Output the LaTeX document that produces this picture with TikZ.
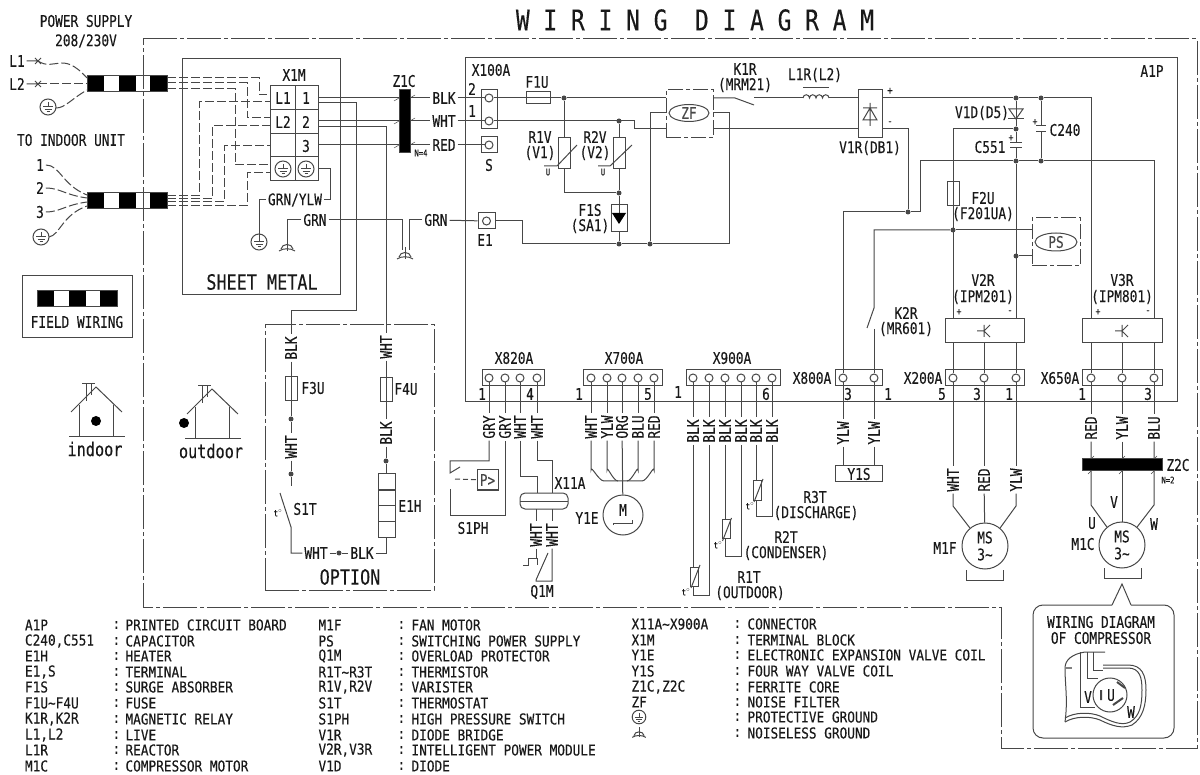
\documentclass[tikz,border=0pt]{standalone}
\usepackage{fontspec}
\usepackage{tikz}
\usetikzlibrary{shapes.geometric}
\newfontfamily\wirefont{DejaVu Sans Mono}[FakeStretch=0.8,FakeBold=0.25]
\newfontfamily\listfont{DejaVu Sans Mono}[FakeStretch=0.85,FakeBold=0.25]
\newcommand{\wave}{\symbol{126}}
\tikzstyle{lbl} = [inner sep=1.5pt, text=black!90]
\tikzstyle{vlbl} = [lbl, rotate=90]
\tikzstyle{legend} = [lbl, anchor=west, inner sep=0pt, font=\listfont\fontsize{15}{15}\selectfont]
\tikzstyle{small} = [lbl, inner sep=0pt, font=\wirefont\fontsize{9}{9}\selectfont]
\tikzstyle{term} = [circle, draw, fill=white, minimum size=8pt, inner sep=0pt]
\tikzstyle{wbox} = [rectangle, draw, inner sep=0pt]
\tikzstyle{fuse} = [rectangle, draw, inner sep=0pt, minimum width=12pt, minimum height=24pt]
\tikzstyle{vari} = [rectangle, draw, fill=white, inner sep=0pt, minimum width=12pt, minimum height=31pt]
\tikzstyle{therm} = [rectangle, draw, fill=white, inner sep=0pt, minimum width=8pt, minimum height=19pt]
\tikzstyle{dashbox} = [rectangle, draw, inner sep=0pt, dash pattern=on 15pt off 3pt on 4pt off 3pt]
\tikzstyle{filter} = [ellipse, draw, inner sep=0pt, minimum width=40pt, minimum height=17pt]
\tikzstyle{jdot} = [circle, fill, inner sep=0pt, minimum size=5pt]
\tikzstyle{motor} = [circle, draw, inner sep=0pt, minimum size=46pt, align=center, text=black!90]
\tikzstyle{fwire} = [dash pattern=on 9pt off 3pt]
\tikzstyle{bound} = [dash pattern=on 34pt off 3pt on 4pt off 3pt]
\tikzset{
  earth/.pic={
    \draw (0,0) circle (8pt);
    \draw (0,-5) -- (0,0) (-5,0) -- (5,0) (-3.5,2.5) -- (3.5,2.5) (-1.5,5) -- (1.5,5);
  },
  quiet/.pic={
    \draw (0,-8) -- (0,4);
    \draw (-6,2) .. controls (-5,-4) and (5,-4) .. (6,2);
    \draw (-8,4) .. controls (-4,1) and (4,1) .. (8,4);
  },
  fieldbar/.pic={
    \foreach \i in {-40,-8,23} {\fill [black] (\i,-8) rectangle ++(17,16);}
    \draw (-40,-8) rectangle (40,8);
  },
  house/.pic={
    \draw (-25,25) -- (0,0) -- (26,25);
    \draw (-17,18) -- (-17,50) (17,18) -- (17,50) (-27,50) -- (29,50);
    \draw (-14,-3) -- (-1,-3) (-10,-3) -- (-10,14) (-5,-3) -- (-5,8);
  },
  ipmsym/.pic={
    \draw (-7,0) -- (0,0) (0,-6) -- (0,6) (0,0) -- (6,-6) (0,0) -- (6,6);
  }
}
\begin{document}
\begin{tikzpicture}[x=1pt, y=-1pt, line width=1pt, color=black!72]
\tikzstyle{every node}=[font=\wirefont\fontsize{16}{17}\selectfont]
\useasboundingbox (0,0) rectangle (1200,775);
\node (title) [lbl] at (695,20) {\fontsize{28.6}{29}\selectfont W I R I N G\ \ D I A G R A M};

% outer frames
\draw [bound] (143,39) -- (1197,39) -- (1197,748) -- (1001,748) -- (1001,607) -- (143,607) -- cycle;
\node (sheet) [wbox, minimum width=158pt, minimum height=236pt] at (261,177) {};
\node (sheetlbl) [lbl] at (262,282) {\fontsize{21}{21}\selectfont SHEET METAL};
\node (a1p) [wbox, minimum width=712pt, minimum height=344pt] at (821.5,230) {};
\node (a1plbl) [lbl] at (1152,71) {A1P};
\node (option) [dashbox, dash pattern=on 34pt off 3pt on 4pt off 3pt, minimum width=169pt, minimum height=265pt] at (349.5,457.5) {};
\node (optlbl) [lbl] at (350,577) {\fontsize{21}{21}\selectfont OPTION};

% field wiring
\node (psup1) [lbl] at (86,21) {POWER SUPPLY};
\node (psup2) [lbl] at (86,41) {208/230V};
\node (toind) [lbl] at (71,140) {TO INDOOR UNIT};
\node (fieldbox) [wbox, minimum width=110pt, minimum height=62pt] at (77,307) {};
\node (fieldlbl) [lbl] at (77,322) {FIELD WIRING};
\pic at (127,84) {fieldbar};
\pic at (127,200.5) {fieldbar};
\pic at (77,299) {fieldbar};

\node (l1) [lbl] at (17,61) {L1};
\node (l2) [lbl] at (17,84) {L2};
\node (n1) [lbl] at (40,165) {1};
\node (n2) [lbl] at (40,188) {2};
\node (n3) [lbl] at (40,212) {3};
\coordinate (pe1) at (48,107);
\coordinate (pe2) at (41,237);
\pic at (pe1) {earth};
\pic at (pe2) {earth};
\coordinate (l1x) at (38,61);
\coordinate (l2x) at (38,84);
\coordinate (bara) at (87,78);
\coordinate (barb) at (87,84);
\coordinate (barc) at (87,90);
\draw (l1) -- (l1x) (35,58) -- (41,64) (35,64) -- (41,58);
\draw (l2) -- (l2x) (35,81) -- (41,87) (35,87) -- (41,81);
\draw [fwire] (l1x) .. controls (55,72) and (62,50) .. (bara);
\draw [fwire] (l2x) -- (barb);
\draw [fwire] (56,108) .. controls (65,108) and (70,100) .. (barc);
\coordinate (bard) at (87,195);
\coordinate (bare) at (87,198);
\coordinate (barf) at (87,202);
\coordinate (barg) at (87,206);
\draw [fwire] (n1) .. controls (60,165) and (62,185) .. (bard);
\draw [fwire] (n2) .. controls (60,188) and (65,195) .. (bare);
\draw [fwire] (n3) .. controls (60,212) and (65,205) .. (barf);
\draw [fwire] (49,237) .. controls (60,235) and (62,215) .. (barg);

% X1M
\node (x1m) [wbox, minimum width=48pt, minimum height=95pt] at (294,133.5) {};
\node (x1mlbl) [lbl] at (294,75) {X1M};
\draw (295,86) -- (295,181);
\foreach \y in {110,134,157} {\draw (270,\y) -- (318,\y);}
\node (tl1) [lbl] at (283,98) {L1};
\node (t1) [lbl] at (306,98) {1};
\node (tl2) [lbl] at (283,122) {L2};
\node (t2) [lbl] at (306,122) {2};
\node (t3) [lbl] at (306,146) {3};
\pic at (283,169) {earth};
\pic at (306,169) {earth};
\draw [fwire] (167,78) -- (259,78) -- (259,95) -- (270,95);
\draw [fwire] (167,83) -- (247,83) -- (247,118) -- (270,118);
\draw [fwire] (167,89) -- (235,89) -- (235,165) -- (270,165);
\draw [fwire] (167,196) -- (199,196) -- (199,102) -- (270,102);
\draw [fwire] (167,199) -- (212,199) -- (212,126) -- (270,126);
\draw [fwire] (167,202) -- (224,202) -- (224,146) -- (270,146);
\draw [fwire] (167,206) -- (247,206) -- (247,173) -- (270,173);

% Z1C and the wires into A1P
\node (lblk1) [lbl] at (444,98) {BLK};
\node (lwht1) [lbl] at (444,121) {WHT};
\node (lred1) [lbl] at (444,145) {RED};
\node (x100a) [wbox, minimum width=16pt, minimum height=39pt] at (489,109.5) {};
\node (x100lbl) [lbl] at (491,70) {X100A};
\node (x1002) [lbl] at (472,89) {2};
\node (x1001) [lbl] at (472,111) {1};
\node (t100b) [term] at (489,98) {};
\node (t100a) [term] at (489,121) {};
\node (ts) [wbox, minimum width=16pt, minimum height=16pt] at (489,145) {};
\node (tsc) [term] at (489,145) {};
\node (tslbl) [lbl] at (489,165) {S};
\node (e1) [wbox, minimum width=17pt, minimum height=16pt] at (486.5,221) {};
\node (e1c) [term] at (486.5,221) {};
\node (e1lbl) [lbl] at (485,240) {E1};
\coordinate (x1a) at (318,98);
\coordinate (x1b) at (318,103);
\coordinate (x2a) at (318,121);
\coordinate (x2b) at (318,127);
\coordinate (x3a) at (318,145);
\draw (x1a) -- (lblk1);
\draw (x2a) -- (lwht1);
\draw (x3a) -- (lred1);
\draw (lblk1) -- (t100b);
\draw (lwht1) -- (t100a);
\draw (lred1) -- (tsc);
\node (z1c) [wbox, fill=black, minimum width=11pt, minimum height=63pt] at (404.5,121.5) {};
\node (z1clbl) [lbl] at (404,81) {Z1C};
\node (z1cn) [small] at (421,153) {N=4};
\foreach \y in {98,121,145} {\draw [line width=0.5pt] (394,\y+3) -- (399,\y) (410,\y) -- (415,\y-3);}

% grounds
\node (gylbl) [lbl] at (295,200) {GRN/YLW};
\node (lgrn1) [lbl] at (315,220) {GRN};
\node (lgrn2) [lbl] at (436,220) {GRN};
\coordinate (pe3) at (259,242);
\coordinate (qt1) at (287,247);
\coordinate (qt2) at (405,255);
\pic at (pe3) {earth};
\pic at (qt1) {quiet};
\pic at (qt2) {quiet};
\draw (318,169) -- (330,169) -- (330,200) -- (gylbl);
\draw (gylbl) -| (pe3);
\draw (lgrn1) -| (qt1);
\draw (lgrn1) -- (402,220) -- (402,250);
\draw (lgrn2) -- (409,220) -- (409,250);
\draw (lgrn2) -- (e1);

% line filter section
\node (f1u) [fuse, minimum width=24pt, minimum height=12pt] at (538,98) {};
\node (f1ulbl) [lbl] at (537,82) {F1U};
\node (j1) [jdot] at (564,98) {};
\node (j2) [jdot] at (619,121) {};
\node (j3) [jdot] at (619,193) {};
\node (j4) [jdot] at (619,244) {};
\node (j5) [jdot] at (650,244) {};
\node (zfbox) [dashbox, minimum width=47pt, minimum height=48pt] at (689.5,114) {};
\node (zf) [filter] at (689,113) {ZF};
\coordinate (zfa) at (666,98);
\coordinate (zfb) at (666,113);
\coordinate (zfc) at (666,129);
\coordinate (zfd) at (713,98);
\coordinate (zfe) at (713,113);
\coordinate (zff) at (713,129);
\draw (t100b) -- (j1) -- (zfa);
\draw (t100a) -- (634,121) -- (634,129) -- (zfc);
\draw (j1) -- (564,193) -- (j3);
\draw (j2) -- (j3) -- (j4);
\draw (e1) -- (522,221) -- (522,244) -- (j4) -- (j5) -- (729,244) -- (729,113) -- (zfe);
\draw (j5) -- (650,113) -- (zfb);
\node (r1v) [vari] at (564,153.5) {};
\node (r2v) [vari] at (619,153.5) {};
\draw (544,166) -- (557,166) -- (577,145);
\draw (598,166) -- (610,166) -- (632,145);
\node (r1vlbl) [lbl] at (540,137) {R1V};
\node (r1vsub) [lbl] at (540,153) {(V1)};
\node (r1vu) [small] at (548,172) {U};
\node (r2vlbl) [lbl] at (595,137) {R2V};
\node (r2vsub) [lbl] at (595,153) {(V2)};
\node (r2vu) [small] at (603,172) {U};
\node (f1s) [wbox, fill=white, minimum width=16pt, minimum height=27pt] at (619,218.5) {};
\draw (619,205) -- (619,213);
\fill [black] (612,213) -- (626,213) -- (619,224) -- cycle;
\node (f1slbl) [lbl] at (590,210) {F1S};
\node (f1ssub) [lbl] at (590,226) {(SA1)};

% relay, reactor, bridge
\node (v1r) [wbox, minimum width=24pt, minimum height=48pt] at (870,114) {};
\node (v1rlbl) [lbl] at (870,148) {V1R(DB1)};
\node (k1rlbl) [lbl] at (745,69) {K1R};
\node (k1rsub) [lbl] at (745,85) {(MRM21)};
\node (l1rlbl) [lbl] at (815,75) {L1R(L2)};
\coordinate (k1a) at (735,98);
\coordinate (k1b) at (754,98);
\coordinate (l1ra) at (803,98);
\coordinate (l1rb) at (829,98);
\draw (zfd) -- (k1a) -- (754,105);
\draw (k1b) -- (l1ra);
\draw (l1ra) \foreach \i in {1,2,3,4} {arc (180:0:3.25pt)};
\draw (803,88) -- (829,88);
\draw (l1rb) -- (v1r.west |- l1rb);
\draw (zff) -- (v1r.west |- zff);
\draw (870,103) -- (870,126) (863,108) -- (877,108) (870,108) -- (863,120) -- (877,120) -- cycle;
\node (v1rp) [small, font=\wirefont\fontsize{11}{11}\selectfont] at (890,91) {+};
\node (v1rm) [small, font=\wirefont\fontsize{11}{11}\selectfont] at (890,123) {-};

% DC bus
\node (j6) [jdot] at (1016,98) {};
\node (j7) [jdot] at (1041,98) {};
\node (j8) [jdot] at (1016,129) {};
\node (j9) [jdot] at (1016,161) {};
\node (j10) [jdot] at (1041,161) {};
\node (j11) [jdot] at (908,212) {};
\node (j12) [jdot] at (953,230) {};
\node (j13) [jdot] at (1016,256) {};
\node (v2r) [wbox, minimum width=79pt, minimum height=24pt] at (984.5,331) {};
\node (v3r) [wbox, minimum width=80pt, minimum height=24pt] at (1122,331) {};
\pic at (984,331) {ipmsym};
\pic at (1122,331) {ipmsym};
\draw (v1r.east |- j6) -- (j6) -- (j7) -- (1091,98) -- (1091,319);
\draw (j6) -- (j8) -- (j9) -- (1016,319);
\draw (j7) -- (j10);
\draw (j8) -- (953,129) -- (953,319);
\draw (v1r.east |- zff) -- (908,129) -- (j11);
\draw (j10) -- (j9) -- (920,161) -- (920,212) -- (j11);
\draw (j10) -- (1154,161) -- (1154,319);
\draw (1009,109) -- (1023,109) -- (1016,119) -- cycle;
\draw (1008,119) -- (1024,119);
\node (v1dlbl) [lbl] at (982,113) {V1D(D5)};
\draw [fill=white, draw=white] (1008,143) rectangle (1024,148);
\draw (1010,143) -- (1022,143) (1010,148) -- (1022,148);
\node (c551lbl) [lbl] at (990,147) {C551};
\node (c551p) [small, font=\wirefont\fontsize{10}{10}\selectfont] at (1011,138) {+};
\draw [fill=white, draw=white] (1035,126) rectangle (1047,132);
\draw (1036,126) -- (1046,126) (1036,132) -- (1046,132);
\node (c240lbl) [lbl] at (1065,130) {C240};
\node (c240p) [small, font=\wirefont\fontsize{10}{10}\selectfont] at (1035,122) {+};
\node (f2u) [fuse] at (953,194) {};
\node (f2ulbl) [lbl] at (983,198) {F2U};
\node (f2usub) [lbl] at (983,214) {(F201UA)};
\node (psbox) [dashbox, minimum width=48pt, minimum height=48pt] at (1056,242) {};
\node (ps) [filter, minimum width=42pt, minimum height=18pt] at (1056,242) {PS};
\draw (j12) -- (psbox.west |- j12);
\draw (j13) -- (psbox.west |- j13);
\node (v2rlbl) [lbl] at (983,280) {V2R};
\node (v2rsub) [lbl] at (983,297) {(IPM201)};
\node (v3rlbl) [lbl] at (1122,280) {V3R};
\node (v3rsub) [lbl] at (1122,297) {(IPM801)};
\node (v2rp) [small, font=\wirefont\fontsize{10}{10}\selectfont] at (959,312) {+};
\node (v2rm) [small, font=\wirefont\fontsize{10}{10}\selectfont] at (1010,312) {-};
\node (v3rp) [small, font=\wirefont\fontsize{10}{10}\selectfont] at (1098,312) {+};
\node (v3rm) [small, font=\wirefont\fontsize{10}{10}\selectfont] at (1148,312) {-};

% connectors along the board edge
\node (x820) [wbox, minimum width=62pt, minimum height=16pt] at (513,378) {};
\node (x700) [wbox, minimum width=79pt, minimum height=16pt] at (622.5,378) {};
\node (x900) [wbox, minimum width=94pt, minimum height=16pt] at (733,378) {};
\node (x800) [wbox, minimum width=47pt, minimum height=16pt] at (858.5,378) {};
\node (x200) [wbox, minimum width=79pt, minimum height=16pt] at (984.5,378) {};
\node (x650) [wbox, minimum width=80pt, minimum height=16pt] at (1122,378) {};
\foreach \x [count=\n] in {489,505,520,537} {\node (ta\n) [term] at (\x,378) {};}
\foreach \x [count=\n] in {591,607,622,638,654} {\node (tb\n) [term] at (\x,378) {};}
\foreach \x [count=\n] in {693,709,725,741,756,772} {\node (tc\n) [term] at (\x,378) {};}
\foreach \x [count=\n] in {843,874} {\node (td\n) [term] at (\x,378) {};}
\foreach \x [count=\n] in {953,984,1016} {\node (te\n) [term] at (\x,378) {};}
\foreach \x [count=\n] in {1091,1122,1154} {\node (tf\n) [term] at (\x,378) {};}
\node (x820lbl) [lbl] at (514,358) {X820A};
\node (x700lbl) [lbl] at (624,358) {X700A};
\node (x900lbl) [lbl] at (732,358) {X900A};
\node (x800lbl) [lbl] at (812,378) {X800A};
\node (x200lbl) [lbl] at (923,378) {X200A};
\node (x650lbl) [lbl] at (1060,378) {X650A};
\node (na1) [lbl] at (482,394) {1};
\node (na4) [lbl] at (530,394) {4};
\node (nb1) [lbl] at (579,394) {1};
\node (nb5) [lbl] at (648,394) {5};
\node (nc1) [lbl] at (678,392) {1};
\node (nc6) [lbl] at (766,394) {6};
\node (nd3) [lbl] at (848,394) {3};
\node (nd1) [lbl] at (888,394) {1};
\node (ne5) [lbl] at (942,394) {5};
\node (ne3) [lbl] at (977,394) {3};
\node (ne1) [lbl] at (1009,394) {1};
\node (nf1) [lbl] at (1082,394) {1};
\node (nf3) [lbl] at (1148,394) {3};
\draw (v2r.south -| te1) -- (te1);
\draw (v2r.south -| te2) -- (te2);
\draw (v2r.south -| te3) -- (te3);
\draw (v3r.south -| tf1) -- (tf1);
\draw (v3r.south -| tf2) -- (tf2);
\draw (v3r.south -| tf3) -- (tf3);

% K2R and X800A
\coordinate (k2a) at (874,308);
\coordinate (k2b) at (874,329);
\draw (j11) -- (843,212) -- (td1);
\draw (j12) -- (874,230) -- (k2a) -- (867,328);
\draw (k2b) -- (td2);
\node (k2rlbl) [lbl] at (906,313) {K2R};
\node (k2rsub) [lbl] at (906,329) {(MR601)};
\node (yl1) [vlbl] at (843,433) {YLW};
\node (yl2) [vlbl] at (874,433) {YLW};
\node (y1s) [wbox, minimum width=47pt, minimum height=16pt] at (858.5,474) {};
\node (y1slbl) [lbl] at (859,474) {Y1S};
\draw (td1) -- (yl1) -- (y1s.north -| yl1);
\draw (td2) -- (yl2) -- (y1s.north -| yl2);

% X820A
\node (gry1) [vlbl] at (489,427) {GRY};
\node (gry2) [vlbl] at (505,427) {GRY};
\node (wht1) [vlbl] at (520,427) {WHT};
\node (wht2) [vlbl] at (537,427) {WHT};
\draw (ta1) -- (gry1);
\draw (ta2) -- (gry2);
\draw (ta3) -- (wht1);
\draw (ta4) -- (wht2);
\node (pbox) [wbox, minimum width=21pt, minimum height=20pt] at (487.5,480) {P>};
\node (s1ph) [lbl] at (473,528) {S1PH};
\coordinate (s1pha) at (450,473);
\coordinate (s1phb) at (450,489);
\draw (gry1) -- (489,461) -- (450,461) -- (s1pha) -- (460,467);
\draw (s1phb) -- (450,515) -- (505,515) -- (gry2);
\draw [dash pattern=on 5pt off 3pt] (455,479) -- (pbox);
\node (x11a) [draw, rounded corners=5pt, inner sep=0pt, minimum width=48pt, minimum height=16pt] at (544,501) {};
\draw (520,501) -- (568,501);
\node (x11albl) [lbl] at (570,483) {X11A};
\draw (wht1) -- (520,477) -- (537,477) -- (537,493);
\draw (wht2) -- (537,461) -- (552,461) -- (552,493);
\node (wht3) [vlbl] at (536,535) {WHT};
\node (wht4) [vlbl] at (552,535) {WHT};
\draw (536,509) -- (wht3);
\draw (552,509) -- (wht4);
\node (q1m) [lbl] at (542,592) {Q1M};
\draw (wht3) -- (536,558);
\draw (523,565) -- (528,565) -- (528,558) -- (537,558) -- (537,565);
\draw (548,553) -- (536,580) -- (536,581) -- (552,581) -- (wht4);

% X700A
\node (lb1) [vlbl] at (591,427) {WHT};
\node (lb2) [vlbl] at (607,427) {YLW};
\node (lb3) [vlbl] at (622,427) {ORG};
\node (lb4) [vlbl] at (638,427) {BLU};
\node (lb5) [vlbl] at (654,427) {RED};
\foreach \n in {1,2,3,4,5} {\draw (tb\n) -- (lb\n);}
\node (y1e) [motor, minimum size=40pt] at (623,515) {};
\node (mlbl) [lbl] at (623,510) {M};
\node (y1elbl) [lbl] at (587,518) {Y1E};
\draw (lb3) -- (y1e);
\draw (lb1) -- (591,470) to [out=90, in=180, looseness=0.8] (604,481) -- (642,481) to [out=0, in=90, looseness=0.8] (654,470) -- (lb5);
\draw (lb2) -- (607,470) to [out=90, in=180, looseness=0.8] (618,481);
\draw (lb4) -- (638,470) to [out=90, in=0, looseness=0.8] (627,481);
\draw (613,525) -- (613,523) -- (632,523) -- (632,520);

% X900A and thermistors
\foreach \x [count=\n] in {693,709,725,741,756,772} {
  \node (lc\n) [vlbl] at (\x,431) {BLK};
  \draw (tc\n) -- (lc\n);
}
\draw (lc1) -- (693,595) -- (709,595) -- (lc2);
\draw (lc3) -- (725,556) -- (741,556) -- (lc4);
\draw (lc5) -- (756,516) -- (772,516) -- (lc6);
\node (r1t) [therm] at (694.5,576.5) {};
\node (r2t) [therm] at (726,529) {};
\node (r3t) [therm] at (757.5,490.5) {};
\draw (691,588) -- (700,565) (722.5,541) -- (731.5,518) (754,502) -- (763,479);
\node (r1tt) [small] at (686,592) {t$^\circ$};
\node (r2tt) [small] at (718,545) {t$^\circ$};
\node (r3tt) [small] at (750,506) {t$^\circ$};
\node (r1tlbl) [lbl] at (749,577) {R1T};
\node (r1tsub) [lbl] at (750,593) {(OUTDOOR)};
\node (r2tlbl) [lbl] at (786,537) {R2T};
\node (r2tsub) [lbl] at (786,553) {(CONDENSER)};
\node (r3tlbl) [lbl] at (815,497) {R3T};
\node (r3tsub) [lbl] at (816,513) {(DISCHARGE)};

% fan motor
\node (wf1) [vlbl] at (953,480) {WHT};
\node (wf2) [vlbl] at (984,480) {RED};
\node (wf3) [vlbl] at (1016,480) {YLW};
\draw (te1) -- (wf1);
\draw (te2) -- (wf2);
\draw (te3) -- (wf3);
\node (m1f) [motor] at (985,546) {MS\\3\wave};
\node (m1flbl) [lbl] at (945,548) {M1F};
\draw (wf1) -- (953,506) -- (m1f.130);
\draw (wf2) -- (m1f);
\draw (wf3) -- (1016,506) -- (m1f.50);
\draw (966,570) -- (966,580) -- (1003,580) -- (1003,570);

% compressor motor
\node (wc1) [vlbl] at (1091,428) {RED};
\node (wc2) [vlbl] at (1122,428) {YLW};
\node (wc3) [vlbl] at (1154,428) {BLU};
\draw (tf1) -- (wc1);
\draw (tf2) -- (wc2);
\draw (tf3) -- (wc3);
\node (m1c) [motor] at (1122,545) {MS\\3\wave};
\node (m1clbl) [lbl] at (1083,544) {M1C};
\draw (wc1) -- (1091,505) -- (m1c.130);
\draw (wc2) -- (m1c);
\draw (wc3) -- (1154,505) -- (m1c.50);
\node (z2c) [wbox, fill=black, minimum width=80pt, minimum height=12pt] at (1122,465) {};
\node (z2clbl) [lbl] at (1178,465) {Z2C};
\node (z2cn) [small] at (1168,480) {N=2};
\foreach \x in {1091,1122,1154} {\draw [line width=0.5pt] (\x-3,474) -- (\x,471) (\x,459) -- (\x+3,456);}
\node (lu) [lbl] at (1092,523) {U};
\node (lv) [lbl] at (1114,502) {V};
\node (lw) [lbl] at (1154,524) {W};
\draw (1104,568) -- (1104,578) -- (1141,578) -- (1141,568);

% option section
\node (lblk3) [vlbl] at (291,348) {BLK};
\node (lwht3) [vlbl] at (386,347) {WHT};
\node (f3u) [fuse] at (291,389) {};
\node (f4u) [fuse] at (386,390) {};
\node (f3ulbl) [lbl] at (313,388) {F3U};
\node (f4ulbl) [lbl] at (406,389) {F4U};
\node (j20) [jdot] at (291,419) {};
\node (lwht4) [vlbl] at (291,447) {WHT};
\node (j21) [jdot] at (291,474) {};
\node (lblk4) [vlbl] at (386,433) {BLK};
\node (j22) [jdot] at (386,461) {};
\node (e1h) [wbox, minimum width=17pt, minimum height=63pt] at (386.5,505.5) {};
\node (e1hlbl) [lbl] at (410,506) {E1H};
\foreach \y in {490,505,521} {\draw (378,\y) -- (395,\y);}
\node (s1tlbl) [lbl] at (305,509) {S1T};
\node (s1tt) [small] at (278,513) {t$^\circ$};
\node (lwht5) [lbl] at (316,553) {WHT};
\node (j23) [jdot] at (339,553) {};
\node (lblk5) [lbl] at (362,553) {BLK};
\coordinate (s1ta) at (291,486);
\coordinate (s1tb) at (291,527);
\draw (x1b) -- (356,103) -- (356,311) -- (291,311) -- (lblk3);
\draw (x2b) -- (386,127) -- (lwht3);
\draw (lblk3) -- (j20) -- (lwht4) -- (j21) -- (s1ta);
\draw (280,493) -- (s1tb) |- (lwht5);
\draw (lwht5) -- (j23) -- (lblk5);
\draw (lblk5) -| (e1h.south -| j22);
\draw (lwht3) -- (lblk4) -- (j22) -- (e1h.north -| j22);

% houses
\pic at (96,387) {house};
\pic at (212,389) {house};
\node (dotin) [jdot, minimum size=10pt, fill=black] at (96,421) {};
\node (dotout) [jdot, minimum size=10pt, fill=black] at (184,423) {};
\node (inlbl) [lbl] at (95,449) {\fontsize{19}{19}\selectfont indoor};
\node (outlbl) [lbl] at (211,451) {\fontsize{19}{19}\selectfont outdoor};

% legend
\foreach \y/\key/\txt [count=\n] in {625/A1P/PRINTED CIRCUIT BOARD, 641/{C240,C551}/CAPACITOR, 656/E1H/HEATER, 672/{E1,S}/TERMINAL, 687/F1S/SURGE ABSORBER, 703/F1U\wave F4U/FUSE, 719/{K1R,K2R}/MAGNETIC RELAY, 735/{L1,L2}/LIVE, 750/L1R/REACTOR, 766/M1C/COMPRESSOR MOTOR} {
  \node (ka\n) [legend] at (24.5,\y) {\key};
  \node (ca\n) [legend] at (112,\y) {:};
  \node (xa\n) [legend] at (125,\y) {\txt};
}
\foreach \y/\key/\txt [count=\n] in {625/M1F/FAN MOTOR, 641/PS/SWITCHING POWER SUPPLY, 656/Q1M/OVERLOAD PROTECTOR, 672/R1T\wave R3T/THERMISTOR, 687/{R1V,R2V}/VARISTER, 703/S1T/THERMOSTAT, 719/S1PH/HIGH PRESSURE SWITCH, 735/V1R/DIODE BRIDGE, 750/{V2R,V3R}/INTELLIGENT POWER MODULE, 766/V1D/DIODE} {
  \node (kb\n) [legend] at (318,\y) {\key};
  \node (cb\n) [legend] at (397,\y) {:};
  \node (xb\n) [legend] at (411,\y) {\txt};
}
\foreach \y/\key/\txt [count=\n] in {624/X11A\wave X900A/CONNECTOR, 640/X1M/TERMINAL BLOCK, 655/Y1E/ELECTRONIC EXPANSION VALVE COIL, 671/Y1S/FOUR WAY VALVE COIL, 687/{Z1C,Z2C}/FERRITE CORE, 702/ZF/NOISE FILTER, 717/{}/PROTECTIVE GROUND, 733/{}/NOISELESS GROUND} {
  \node (kc\n) [legend] at (631,\y) {\key};
  \node (cc\n) [legend] at (733,\y) {:};
  \node (xc\n) [legend] at (747,\y) {\txt};
}
\pic [scale=0.85] at (639,717) {earth};
\pic [scale=0.85] at (639,734) {quiet};

% compressor callout
\draw [rounded corners=10pt] (1112,605) -- (1033,605) -- (1033,738) -- (1174,738) -- (1174,605) -- (1131,605);
\draw (1112,605) -- (1122,584) -- (1131,605);
\node (cmp1) [lbl] at (1101,622) {WIRING DIAGRAM};
\node (cmp2) [lbl] at (1101,638) {OF COMPRESSOR};
\draw (1105,652) -- (1085,652) .. controls (1072,654) and (1065,660) .. (1065,668) .. controls (1065,685) and (1068,700) .. (1065,722);
\draw (1065,718) .. controls (1075,712) and (1090,712) .. (1100,716) .. controls (1112,722) and (1122,726) .. (1130,722) .. controls (1140,716) and (1142,705) .. (1142,690) .. controls (1142,678) and (1140,668) .. (1128,668) -- (1103,668);
\draw (1065,722) .. controls (1075,716) and (1090,716) .. (1100,720) .. controls (1112,726) and (1122,729) .. (1132,725) .. controls (1143,718) and (1146,705) .. (1146,690) .. controls (1146,675) and (1142,665) .. (1128,665) -- (1103,665);
\draw (1080,652) -- (1080,707) -- (1095,707);
\draw (1087,652) -- (1087,678) -- (1098,678);
\draw (1093,652) -- (1093,670) -- (1103,670);
\draw (1110,695) circle (17pt);
\draw [line width=2pt] (1101,690) -- (1101,700) (1117,682) -- (1125,688) (1113,705) -- (1123,698);
\draw [line width=1.6pt, gray] (1065,668) -- (1072,668);
\node (cmpv) [lbl] at (1088,697) {V};
\node (cmpu) [lbl] at (1111,695) {U};
\node (cmpw) [lbl] at (1131,712) {W};
\end{tikzpicture}
\end{document}
